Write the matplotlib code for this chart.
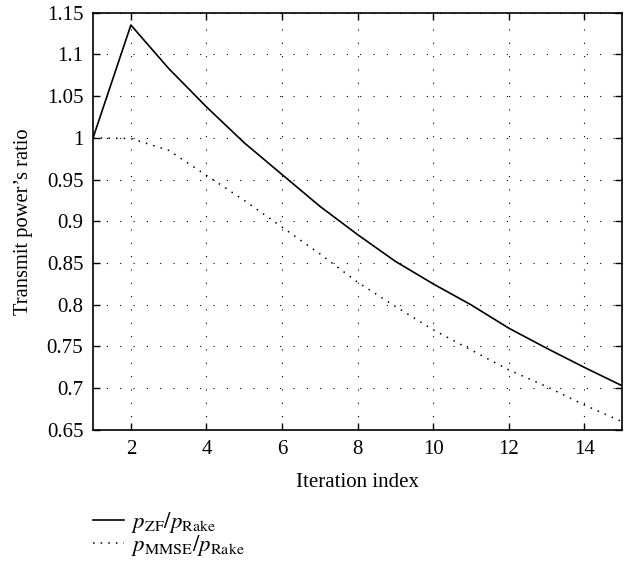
import matplotlib
matplotlib.use('Agg')
import matplotlib.pyplot as plt
import numpy as np

iterations = np.arange(1, 16)
zf_ratio = [1.0, 1.135, 1.083, 1.037, 0.994, 0.956, 0.918, 0.884, 0.852,
            0.825, 0.800, 0.772, 0.748, 0.725, 0.703]
mmse_ratio = [1.0, 0.999, 0.985, 0.955, 0.925, 0.893, 0.861, 0.827, 0.798,
              0.770, 0.746, 0.722, 0.702, 0.680, 0.660]

x_ticks = [2, 4, 6, 8, 10, 12, 14]
y_ticks = np.round(np.arange(0.65, 1.151, 0.05), 2)
y_ticklabels = ['0.65', '0.7', '0.75', '0.8', '0.85', '0.9', '0.95',
                '1', '1.05', '1.1', '1.15']

plt.rcParams['font.family'] = ['Liberation Serif', 'DejaVu Serif']
plt.rcParams['mathtext.fontset'] = 'stix'

fig = plt.figure(figsize=(6.29, 5.64), dpi=100)
ax = fig.add_axes([0.148, 0.2376, 0.841, 0.7402])

ax.plot(iterations, zf_ratio, color='black', lw=1.2, linestyle='-',
        label=r'$p_{\mathrm{ZF}}/p_{\mathrm{Rake}}$')
ax.plot(iterations, mmse_ratio, color='black', lw=1.1, linestyle=(0, (1, 4)),
        label=r'$p_{\mathrm{MMSE}}/p_{\mathrm{Rake}}$')

ax.set_xlim(1, 15)
ax.set_ylim(0.65, 1.15)
ax.set_xticks(x_ticks)
ax.set_yticks(y_ticks)
ax.set_yticklabels(y_ticklabels)
ax.tick_params(direction='in', top=True, right=True, labelsize=15, length=5,
               width=1, pad=7)
ax.grid(True, color='black', lw=0.8, linestyle=(0, (1, 11)))
for s in ax.spines.values():
    s.set_linewidth(1.2)

ax.set_xlabel('Iteration index', fontsize=15, labelpad=10)
ax.set_ylabel('Transmit power\u2019s ratio', fontsize=14.8, labelpad=10)

fig.legend(loc='upper left', bbox_to_anchor=(0.148, 0.095), frameon=False,
           fontsize=16.5, handlelength=1.35, handletextpad=0.3, labelspacing=-0.1,
           borderpad=0, borderaxespad=0)

fig.savefig('out.png', dpi=100)
